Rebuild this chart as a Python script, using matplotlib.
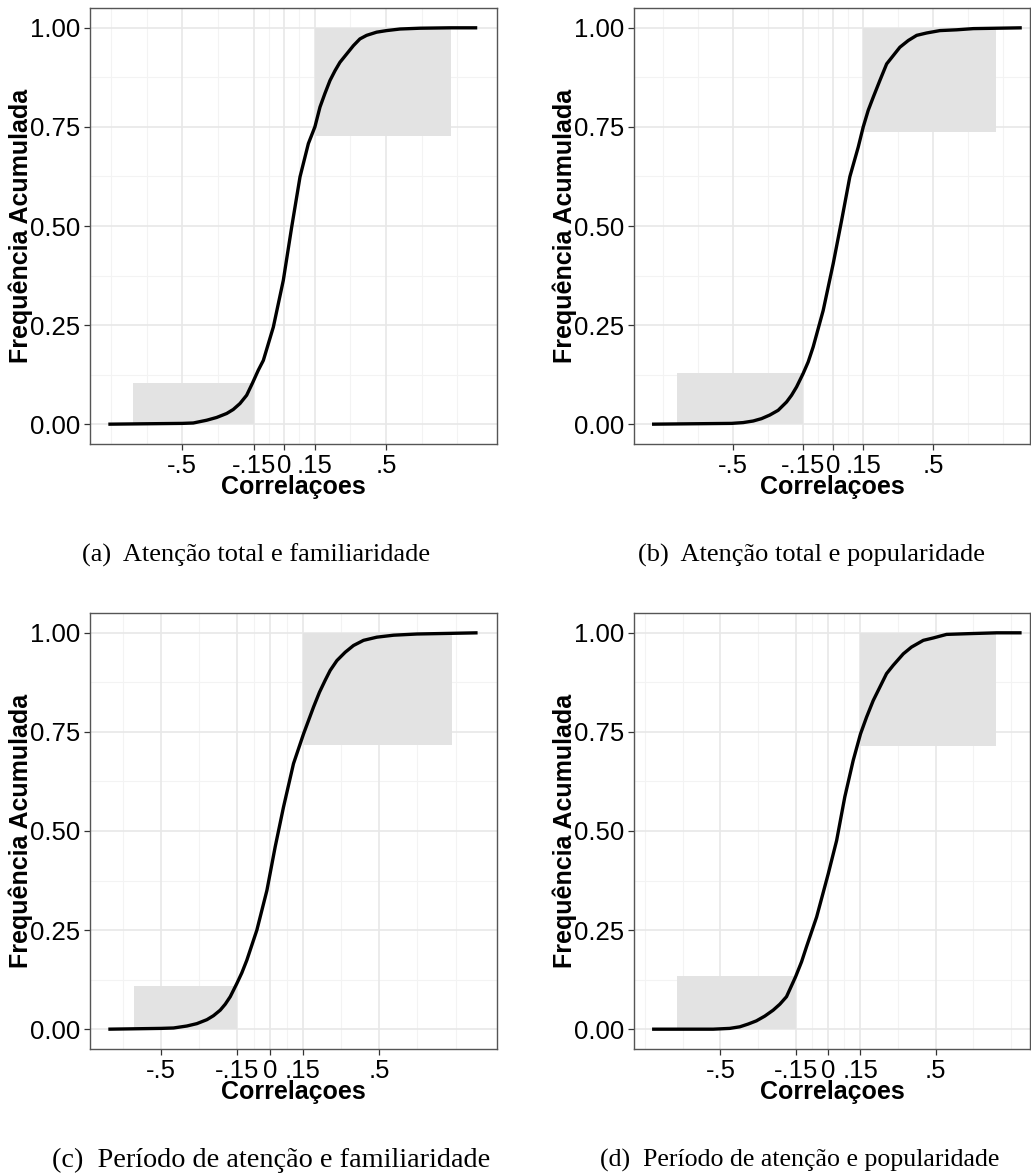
import matplotlib.pyplot as plt
from matplotlib.patches import Rectangle

corr_a = [-0.863, -0.50, -0.446, -0.38, -0.331, -0.282, -0.25, -0.217, -0.184, -0.156, -0.127,
          -0.102, -0.053, -0.004, 0.037, 0.078, 0.119, 0.151, 0.176, 0.20, 0.225, 0.25, 0.274,
          0.307, 0.34, 0.372, 0.405, 0.454, 0.503, 0.569, 0.667, 0.814, 0.948]
freq_a = [0.0, 0.002, 0.003, 0.01, 0.017, 0.027, 0.037, 0.052, 0.073, 0.103, 0.136,
          0.161, 0.245, 0.363, 0.497, 0.624, 0.708, 0.75, 0.80, 0.834, 0.867, 0.892, 0.913,
          0.934, 0.955, 0.972, 0.981, 0.989, 0.993, 0.997, 0.999, 1.0, 1.0]

corr_b = [-0.905, -0.508, -0.45, -0.40, -0.358, -0.317, -0.275, -0.233, -0.208, -0.183, -0.15,
          -0.125, -0.10, -0.05, 0.0, 0.042, 0.083, 0.125, 0.15, 0.175, 0.20, 0.233, 0.267,
          0.30, 0.333, 0.375, 0.417, 0.467, 0.533, 0.617, 0.70, 0.942]
freq_b = [0.0, 0.002, 0.004, 0.008, 0.014, 0.023, 0.035, 0.056, 0.073, 0.094, 0.128,
          0.157, 0.195, 0.287, 0.405, 0.514, 0.624, 0.699, 0.75, 0.792, 0.825, 0.867, 0.909,
          0.93, 0.951, 0.968, 0.981, 0.987, 0.993, 0.995, 0.998, 1.0]

corr_c = [-0.742, -0.50, -0.443, -0.382, -0.336, -0.29, -0.26, -0.229, -0.206, -0.183, -0.153,
          -0.13, -0.107, -0.061, -0.015, 0.023, 0.061, 0.107, 0.153, 0.176, 0.199, 0.226, 0.252,
          0.275, 0.306, 0.344, 0.382, 0.428, 0.489, 0.566, 0.673, 0.951]
freq_c = [0.0, 0.002, 0.003, 0.008, 0.014, 0.024, 0.034, 0.048, 0.063, 0.082, 0.115,
          0.142, 0.174, 0.25, 0.35, 0.46, 0.56, 0.67, 0.745, 0.779, 0.813, 0.85, 0.88,
          0.905, 0.93, 0.951, 0.968, 0.981, 0.989, 0.994, 0.997, 1.0]

corr_d = [-0.818, -0.534, -0.457, -0.41, -0.371, -0.333, -0.294, -0.255, -0.224, -0.193, -0.151,
          -0.123, -0.10, -0.053, 0.001, 0.04, 0.078, 0.117, 0.151, 0.179, 0.21, 0.241, 0.272,
          0.303, 0.35, 0.388, 0.443, 0.489, 0.551, 0.66, 0.784, 0.90]
freq_d = [0.0, 0.0, 0.002, 0.006, 0.013, 0.021, 0.033, 0.048, 0.063, 0.082, 0.132,
          0.17, 0.208, 0.283, 0.392, 0.476, 0.586, 0.678, 0.745, 0.787, 0.829, 0.863, 0.897,
          0.918, 0.947, 0.964, 0.981, 0.987, 0.996, 0.998, 1.0, 1.0]

# faixas sombreadas (x0, x1, y0, y1): correlações negativas e positivas
faixa_neg = [(-0.74, -0.15, 0, 0.103), (-0.778, -0.15, 0, 0.128),
             (-0.625, -0.15, 0, 0.108), (-0.70, -0.15, 0, 0.134)]
faixa_pos = [(0.15, 0.82, 0.728, 1.0), (0.15, 0.812, 0.737, 1.0),
             (0.15, 0.833, 0.718, 1.0), (0.15, 0.78, 0.715, 1.0)]

xticks = [-0.5, -0.15, 0, 0.15, 0.5]
xtick_labels = ['-.5', '-.15', '0', '.15', '.5']
yticks = [0, 0.25, 0.5, 0.75, 1.0]
ytick_labels = ['0.00', '0.25', '0.50', '0.75', '1.00']
x_minor = [-0.85, -0.675, -0.325, -0.075, 0.075, 0.325, 0.675, 0.85]
y_minor = [0.125, 0.375, 0.625, 0.875]

legendas = ['(a)  Atenção total e familiaridade',
            '(b)  Atenção total e popularidade',
            '(c)  Período de atenção e familiaridade',
            '(d)  Período de atenção e popularidade']

series = [(corr_a, freq_a), (corr_b, freq_b), (corr_c, freq_c), (corr_d, freq_d)]

# layout em pixels (esquerda, topo, direita, base) e limites do eixo x
W, H = 1031, 1176
caixas = [(90, 8, 497, 444), (634, 8, 1030, 444),
          (90, 613, 497, 1049), (634, 613, 1030, 1049)]
xlims = [(-0.953, 1.045), (-0.995, 0.983), (-0.826, 1.040), (-0.902, 0.939)]
pos_legenda = [(256, 555), (811, 555), (271, 1160), (800, 1160)]
tam_legenda = [19, 19, 20.3, 18.6]

plt.rcParams['font.family'] = ['Liberation Sans', 'DejaVu Sans']

fig = plt.figure(figsize=(W / 100, H / 100), dpi=100)

for i, (xs, ys) in enumerate(series):
    l, t, r, b = caixas[i]
    ax = fig.add_axes([l / W, 1 - b / H, (r - l) / W, (b - t) / H])

    # grade estilo theme_bw
    for v in x_minor:
        ax.axvline(v, color='#f3f3f3', lw=0.8, zorder=0)
    for v in y_minor:
        ax.axhline(v, color='#f3f3f3', lw=0.8, zorder=0)
    for v in xticks:
        ax.axvline(v, color='#e8e8e8', lw=1.2, zorder=0)
    for v in yticks:
        ax.axhline(v, color='#e8e8e8', lw=1.2, zorder=0)

    for (x0, x1, y0, y1) in (faixa_neg[i], faixa_pos[i]):
        ax.add_patch(Rectangle((x0, y0), x1 - x0, y1 - y0,
                               facecolor='#e3e3e3', edgecolor='none', zorder=1))

    ax.plot(xs, ys, color='black', lw=2.4, solid_capstyle='butt',
            solid_joinstyle='round', zorder=3)

    ax.set_xlim(*xlims[i])
    ax.set_ylim(-0.05, 1.05)
    ax.set_xticks(xticks)
    ax.set_xticklabels(xtick_labels)
    ax.set_yticks(yticks)
    ax.set_yticklabels(ytick_labels)
    ax.tick_params(length=4, width=0.9, color='#333333', pad=3,
                   labelsize=18.5, labelcolor='black')
    for s in ax.spines.values():
        s.set_color('#555555')
        s.set_linewidth(1.0)

    ax.set_xlabel('Correlaçoes', fontsize=18, fontweight='bold')
    ax.set_ylabel('Frequência Acumulada', fontsize=18, fontweight='bold')
    ax.xaxis.set_label_coords(0.5, -0.099)
    ax.xaxis.label.set_va('center')
    ax.yaxis.set_label_coords(-69 / (r - l), 0.5)
    ax.yaxis.label.set_va('center')

    cx, cy = pos_legenda[i]
    fig.text(cx / W, 1 - cy / H, legendas[i], ha='center', va='center',
             fontsize=tam_legenda[i], family=['Liberation Serif', 'DejaVu Serif'])

fig.savefig('out.png', dpi=100)
